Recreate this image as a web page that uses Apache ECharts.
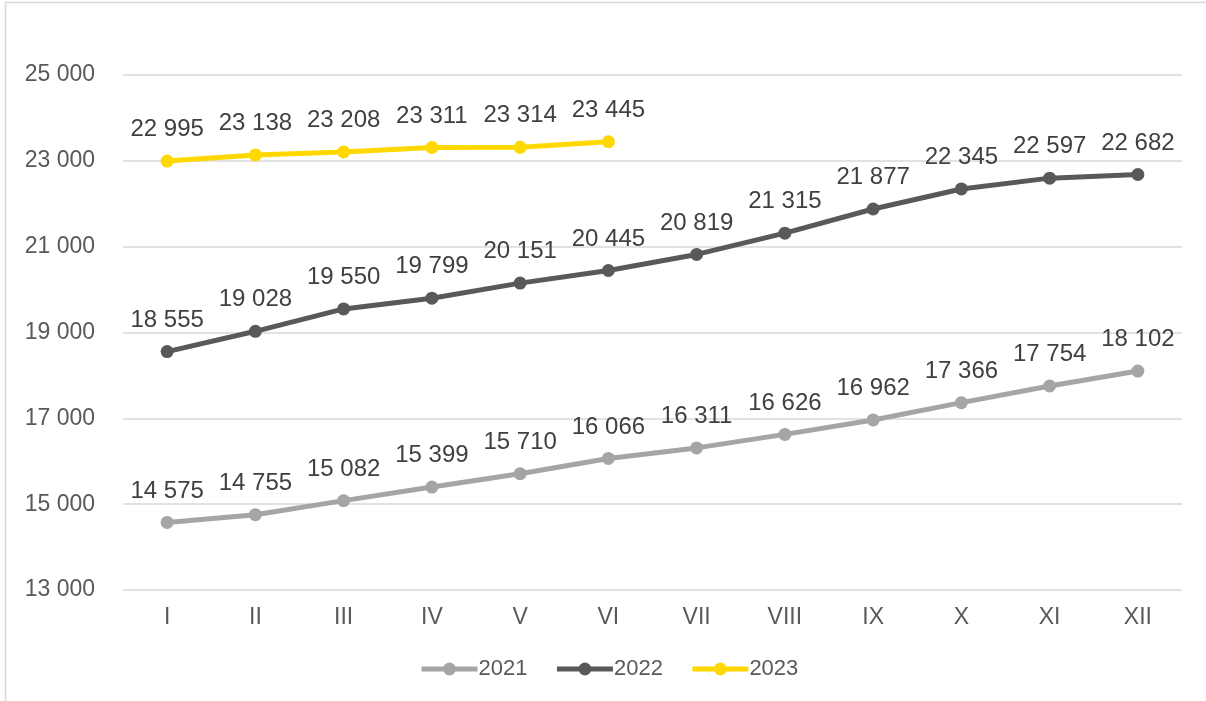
<!DOCTYPE html>
<html>
<head>
<meta charset="utf-8">
<script src="https://cdn.jsdelivr.net/npm/echarts@6/dist/echarts.min.js"></script>
<style>
  html, body { margin: 0; padding: 0; background: #fff; }
  #chart { width: 1206px; height: 701px; }
</style>
</head>
<body>
<div id="chart"></div>
<script>
// Monthly values by year
const months = ['I', 'II', 'III', 'IV', 'V', 'VI', 'VII', 'VIII', 'IX', 'X', 'XI', 'XII'];
const values2021 = [14575, 14755, 15082, 15399, 15710, 16066, 16311, 16626, 16962, 17366, 17754, 18102];
const values2022 = [18555, 19028, 19550, 19799, 20151, 20445, 20819, 21315, 21877, 22345, 22597, 22682];
const values2023 = [22995, 23138, 23208, 23311, 23314, 23445];

const FONT = '"Liberation Sans", Arial, sans-serif';
const fmt = v => String(Math.round(v)).replace(/\B(?=(\d{3})+(?!\d))/g, ' ');

function lineSeries(name, data, color) {
  return {
    name: name,
    type: 'line',
    data: data,
    symbol: 'circle',
    symbolSize: 13,
    lineStyle: { color: color, width: 5 },
    itemStyle: { color: color },
    label: {
      show: true,
      position: 'top',
      distance: 13,
      color: '#404040',
      fontSize: 24,
      fontFamily: FONT,
      formatter: p => fmt(p.value)
    },
    animation: false
  };
}

const chart = echarts.init(document.getElementById('chart'), null, { renderer: 'canvas' });
chart.setOption({
  backgroundColor: '#ffffff',
  textStyle: { fontFamily: FONT },
  graphic: [{
    type: 'rect',
    shape: { x: 5.5, y: 2.5, width: 1220, height: 720 },
    style: { fill: 'none', stroke: '#d9d9d9', lineWidth: 1.5 },
    silent: true
  }],
  grid: { left: 123, right: 24, top: 75, bottom: 111 },
  legend: {
    data: ['2021', '2022', '2023'],
    top: 653,
    left: 414,
    itemWidth: 56,
    itemHeight: 16,
    itemGap: 27,
    lineStyle: { width: 5 },
    textStyle: { color: '#595959', fontSize: 22, fontFamily: FONT, padding: [0, 0, 0, -4] }
  },
  xAxis: {
    type: 'category',
    data: months,
    boundaryGap: true,
    axisLine: { show: false },
    axisTick: { show: false },
    axisLabel: { color: '#595959', fontSize: 23, fontFamily: FONT, margin: 16 }
  },
  yAxis: {
    type: 'value',
    min: 13000,
    max: 25000,
    interval: 2000,
    axisLine: { show: false },
    axisTick: { show: false },
    splitLine: { lineStyle: { color: '#d9d9d9', width: 1.5 } },
    axisLabel: { color: '#595959', fontSize: 23, fontFamily: FONT, margin: 28, formatter: v => fmt(v) }
  },
  series: [
    lineSeries('2021', values2021, '#a5a5a5'),
    lineSeries('2022', values2022, '#595959'),
    lineSeries('2023', values2023, '#ffd800')
  ]
});
</script>
</body>
</html>
